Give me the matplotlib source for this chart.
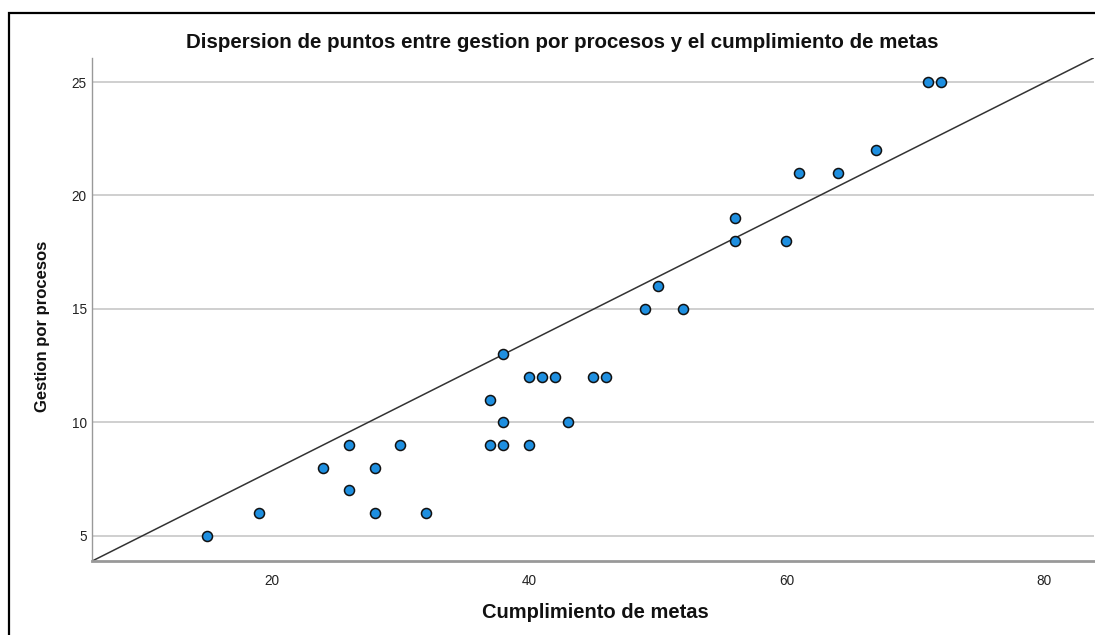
import numpy as np
import matplotlib
matplotlib.use("Agg")
from matplotlib import pyplot as plt
from matplotlib.patches import Rectangle

# Cumplimiento de metas (x) vs Gestion por procesos (y)
metas = [15, 19, 24, 26, 26, 28, 28, 30, 32, 37, 37, 38, 38, 38, 40, 40,
         41, 42, 43, 45, 46, 49, 50, 52, 56, 56, 60, 61, 64, 67, 71, 72]
gestion = [5, 6, 8, 9, 7, 8, 6, 9, 6, 11, 9, 13, 10, 9, 12, 9,
           12, 12, 10, 12, 12, 15, 16, 15, 19, 18, 18, 21, 21, 22, 25, 25]

# reference line
line_intercept = 2.16
line_slope = 0.285

x_ticks = [20, 40, 60, 80]
y_ticks = [5, 10, 15, 20, 25]

plt.rcParams["font.family"] = ["Liberation Sans", "DejaVu Sans"]

fig = plt.figure(figsize=(10.95, 6.35), dpi=100)
ax = fig.add_axes([0.0843, 0.1165, 0.9147, 0.7922])

xmin, xmax = 6.06, 83.9
ymin, ymax = 3.885, 26.06

ax.set_axisbelow(True)
ax.yaxis.grid(True, color="#cccccc", lw=1.3)
ax.xaxis.grid(False)

xs = np.array([xmin, xmax])
ax.plot(xs, line_intercept + line_slope * xs, color="#333333", lw=1.1, zorder=2)

ax.scatter(metas, gestion, s=52, c="#1e8fe0", edgecolors="#111111",
           linewidths=1.1, zorder=3, clip_on=False)

ax.set_xlim(xmin, xmax)
ax.set_ylim(ymin, ymax)
ax.set_xticks(x_ticks)
ax.set_yticks(y_ticks)
ax.tick_params(axis="both", length=0, labelsize=9.8, colors="#222222")
ax.tick_params(axis="x", pad=9)
ax.tick_params(axis="y", pad=4)

for side in ["top", "right"]:
    ax.spines[side].set_visible(False)
ax.spines["left"].set_color("#999999")
ax.spines["left"].set_linewidth(1.0)
ax.spines["bottom"].set_color("#999999")
ax.spines["bottom"].set_linewidth(2.0)

fig.text(562 / 1095, 1 - 43 / 635,
         "Dispersion de puntos entre gestion por procesos y el cumplimiento de metas",
         ha="center", va="center", fontsize=14.8, fontweight="bold", color="#111111")
fig.text(595 / 1095, 1 - 612 / 635, "Cumplimiento de metas",
         ha="center", va="center", fontsize=14.5, fontweight="bold", color="#111111")
fig.text(43 / 1095, 1 - 326 / 635, "Gestion por procesos", rotation=90,
         ha="center", va="center", fontsize=12, fontweight="bold", color="#111111")

# outer frame
fig.patches.append(Rectangle((9 / 1095, -0.1), 1.2, 1 - 13 / 635 + 0.1,
                             transform=fig.transFigure, fill=False,
                             edgecolor="black", lw=1.6))

fig.savefig("out.png", dpi=100)
